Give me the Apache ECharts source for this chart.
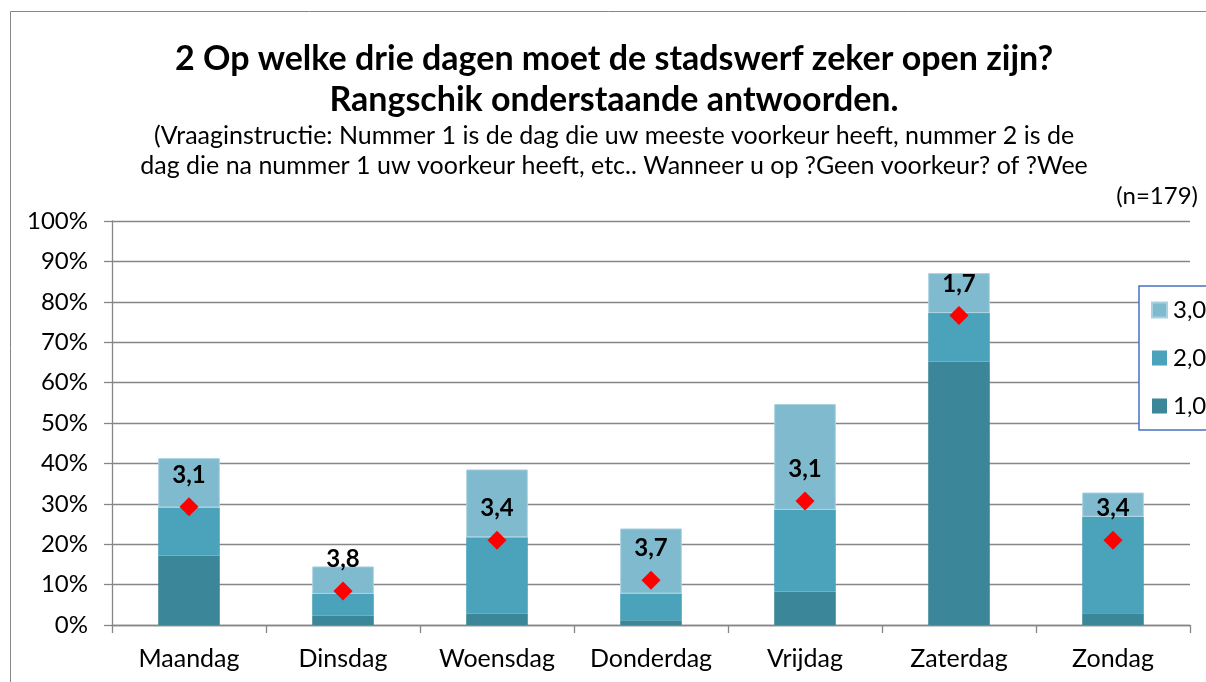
<!DOCTYPE html>
<html>
<head>
<meta charset="utf-8">
<script src="https://cdn.jsdelivr.net/npm/echarts@6/dist/echarts.min.js"></script>
<style>
html,body{margin:0;padding:0;background:#fff;}
#chart{width:1206px;height:682px;}
</style>
</head>
<body>
<div id="chart"></div>
<script>
// ---- data ----
const categories = ['Maandag','Dinsdag','Woensdag','Donderdag','Vrijdag','Zaterdag','Zondag'];
const rank1 = [17.2, 2.3, 2.8, 1.2, 8.3, 65.2, 2.9];   // "1,0"
const rank2 = [11.9, 5.4, 18.9, 6.6, 20.2, 12.0, 23.9]; // "2,0"
const rank3 = [12.2, 6.8, 16.8, 16.1, 26.2, 9.9, 6.0];  // "3,0"
const meanPos = [29.3, 8.4, 21.0, 11.1, 30.7, 76.6, 21.0];
const meanLabels = ['3,1','3,8','3,4','3,7','3,1','1,7','3,4'];
const seriesNames = ['1,0','2,0','3,0'];
const yTicks = [0,10,20,30,40,50,60,70,80,90,100];
const titleLines = ['2 Op welke drie dagen moet de stadswerf zeker open zijn?','Rangschik onderstaande antwoorden.'];
const subtitleLines = ['(Vraaginstructie: Nummer 1 is de dag die uw meeste voorkeur heeft, nummer 2 is de','dag die na nummer 1 uw voorkeur heeft, etc.. Wanneer u op ?Geen voorkeur? of ?Wee'];
const nText = '(n=179)';

const FONT = 'Lato, "Open Sans", sans-serif';
const colors = ['#3B8699','#4AA2BB','#7FBACE'];

const chart = echarts.init(document.getElementById('chart'));
const barData = [rank1, rank2, rank3];

const option = {
  animation: false,
  textStyle: {fontFamily: FONT},
  grid: {left: 112, right: 16, top: 221, bottom: 57, containLabel: false},
  legend: {
    left: 1139, top: 286,
    orient: 'vertical',
    data: ['3,0','2,0','1,0'],
    itemWidth: 15, itemHeight: 15, itemGap: 24,
    padding: [12, 120, 12, 12],
    borderColor: '#4472C4', borderWidth: 1.5,
    backgroundColor: '#fff',
    icon: 'rect',
    textStyle: {fontSize: 24, color: '#000', fontFamily: FONT, padding: [0,0,0,1], lineHeight: 24}
  },
  xAxis: {
    type: 'category', data: categories,
    axisLine: {lineStyle: {color: '#868686', width: 1.3}},
    axisTick: {show: true, length: 8, interval: 0, lineStyle: {color: '#868686', width: 1.3}},
    axisLabel: {fontSize: 25, color: '#000', margin: 21, fontFamily: FONT, interval: 0}
  },
  yAxis: {
    type: 'value', min: 0, max: 100, interval: 10,
    axisLine: {show: true, lineStyle: {color: '#868686', width: 1.3}},
    axisTick: {show: true, length: 8, lineStyle: {color: '#868686', width: 1.3}},
    splitLine: {lineStyle: {color: '#868686', width: 1.3}},
    axisLabel: {fontSize: 24, color: '#000', margin: 24, fontFamily: FONT,
      formatter: v => (yTicks.indexOf(v) >= 0 ? v + '%' : '')}
  },
  series: [
    ...seriesNames.map((n, i) => ({
      name: n, type: 'bar', stack: 'a', barWidth: '40%',
      data: barData[i],
      itemStyle: {color: colors[i], borderColor: i === 2 ? '#A9D2E0' : colors[i], borderWidth: i === 2 ? 1 : 0},
      z: 2
    })),
    {
      name: 'gem', type: 'scatter', data: meanPos,
      symbol: 'diamond', symbolSize: 19,
      itemStyle: {color: '#FF0000', opacity: 1},
      z: 5,
      label: {
        show: true, position: 'top', distance: 10,
        formatter: p => meanLabels[p.dataIndex],
        fontSize: 24, fontWeight: 'bold', color: '#000', fontFamily: FONT
      }
    }
  ],
  graphic: [
    {type: 'rect', shape: {x: 10.5, y: 11.5, width: 1300, height: 800},
     style: {fill: 'none', stroke: '#868686', lineWidth: 1}, silent: true, z: -1},
    {type: 'text', x: 614, y: 59, style: {text: titleLines[0], textAlign: 'center', textVerticalAlign: 'middle', font: 'bold 34px ' + FONT, fill: '#000'}},
    {type: 'text', x: 614, y: 100, style: {text: titleLines[1], textAlign: 'center', textVerticalAlign: 'middle', font: 'bold 34px ' + FONT, fill: '#000'}},
    {type: 'text', x: 614, y: 136, style: {text: subtitleLines[0], textAlign: 'center', textVerticalAlign: 'middle', font: '25px ' + FONT, fill: '#000'}},
    {type: 'text', x: 614, y: 166, style: {text: subtitleLines[1], textAlign: 'center', textVerticalAlign: 'middle', font: '25px ' + FONT, fill: '#000'}},
    {type: 'text', x: 1198, y: 196, style: {text: nText, textAlign: 'right', textVerticalAlign: 'middle', font: '24px ' + FONT, fill: '#000'}}
  ]
};
chart.setOption(option);
</script>
</body>
</html>
